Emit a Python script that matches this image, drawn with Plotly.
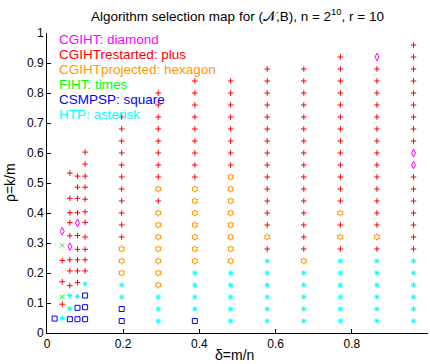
import plotly.graph_objects as go

# Problem-size columns (delta = m/n)
DELTA = [0.02, 0.04, 0.06, 0.08, 0.10, 0.196, 0.292, 0.388, 0.482, 0.578, 0.674, 0.770, 0.866, 0.962]

# Winning algorithm at each (delta, rho) point, grouped by delta column
cgiht_rho = {
    0.04: [0.339],
    0.06: [0.288],
    0.08: [0.367],
    0.866: [0.92],
    0.962: [0.56, 0.60],
}

cgiht_restarted_rho = {
    0.04: [0.096, 0.171, 0.242],
    0.06: [0.158, 0.207, 0.244, 0.324, 0.368, 0.401, 0.449, 0.533],
    0.08: [0.168, 0.207, 0.244, 0.279, 0.325, 0.401, 0.449, 0.486, 0.523],
    0.10: [0.207, 0.244, 0.279, 0.320, 0.369, 0.404, 0.446, 0.486, 0.523, 0.563, 0.603],
    0.196: [0.32, 0.36, 0.40, 0.44, 0.48, 0.52, 0.56, 0.60, 0.64, 0.68, 0.72],
    0.292: [0.44, 0.52, 0.56, 0.60, 0.64, 0.68, 0.72, 0.76, 0.80],
    0.388: [0.52, 0.56, 0.60, 0.64, 0.68, 0.72, 0.76, 0.80, 0.84],
    0.482: [0.56, 0.60, 0.64, 0.68, 0.72, 0.76, 0.80, 0.84],
    0.578: [0.28, 0.36, 0.40, 0.44, 0.48, 0.52, 0.56, 0.60, 0.64, 0.68, 0.72, 0.76, 0.80, 0.84, 0.88],
    0.674: [0.28, 0.32, 0.36, 0.40, 0.44, 0.48, 0.52, 0.56, 0.60, 0.64, 0.68, 0.72, 0.76, 0.80, 0.84, 0.88],
    0.770: [0.28, 0.36, 0.44, 0.48, 0.52, 0.56, 0.60, 0.64, 0.68, 0.72, 0.76, 0.80, 0.84, 0.88, 0.92],
    0.866: [0.28, 0.36, 0.40, 0.44, 0.48, 0.52, 0.56, 0.60, 0.64, 0.68, 0.72, 0.76, 0.80, 0.84, 0.88],
    0.962: [0.28, 0.32, 0.36, 0.40, 0.44, 0.48, 0.52, 0.64, 0.68, 0.72, 0.76, 0.80, 0.84, 0.88, 0.92, 0.96],
}

cgiht_projected_rho = {
    0.196: [0.20, 0.24, 0.28],
    0.292: [0.16, 0.20, 0.24, 0.28, 0.32, 0.36, 0.40, 0.48],
    0.388: [0.24, 0.28, 0.32, 0.36, 0.40, 0.44, 0.48],
    0.482: [0.24, 0.28, 0.32, 0.36, 0.40, 0.44, 0.48, 0.52],
    0.578: [0.32],
    0.674: [0.24],
    0.770: [0.32, 0.40],
    0.866: [0.32],
}

fiht_rho = {
    0.04: [0.121, 0.292],
}

csmpsp_rho = {
    0.02: [0.048],
    0.06: [0.046],
    0.08: [0.046, 0.084],
    0.10: [0.046, 0.086, 0.125],
    0.196: [0.04, 0.08],
    0.388: [0.04],
}

htp_rho = {
    0.04: [0.049],
    0.06: [0.081, 0.125],
    0.08: [0.121],
    0.10: [0.164],
    0.196: [0.12, 0.16],
    0.292: [0.04, 0.08, 0.12],
    0.388: [0.08, 0.12, 0.16, 0.20],
    0.482: [0.04, 0.08, 0.12, 0.16, 0.20],
    0.578: [0.04, 0.08, 0.12, 0.16, 0.20, 0.24],
    0.674: [0.04, 0.08, 0.12, 0.16, 0.20],
    0.770: [0.04, 0.08, 0.12, 0.16, 0.20, 0.24],
    0.866: [0.04, 0.08, 0.12, 0.16, 0.20, 0.24],
    0.962: [0.04, 0.08, 0.12, 0.16, 0.20, 0.24],
}

X_TICKS = [0, 0.2, 0.4, 0.6, 0.8, 1]
X_TICK_TEXT = ["0", "0.2", "0.4", "0.6", "0.8", "1"]
Y_TICKS = [0, 0.1, 0.2, 0.3, 0.4, 0.5, 0.6, 0.7, 0.8, 0.9, 1]
Y_TICK_TEXT = ["0", "0.1", "0.2", "0.3", "0.4", "0.5", "0.6", "0.7", "0.8", "0.9", "1"]

FONT = "Liberation Sans, Arial, Helvetica, sans-serif"

# name, points, marker symbol, colour, marker size
ALGORITHMS = [
    ("HTP: asterisk", htp_rho, "asterisk-open", "#00FFFF", 4.5),
    ("CSMPSP: square", csmpsp_rho, "square-open", "#0000FF", 5),
    ("FIHT: times", fiht_rho, "x-thin-open", "#00FF00", 4.5),
    ("CGIHTprojected: hexagon", cgiht_projected_rho, "hexagram-open", "#FF9900", 5),
    ("CGIHTrestarted: plus", cgiht_restarted_rho, "cross-thin-open", "#FF0000", 4),
    ("CGIHT: diamond", cgiht_rho, "diamond-tall-open", "#FF00FF", 5.5),
]

fig = go.Figure()
for name, pts, symbol, color, size in ALGORITHMS:
    xs = [d for d, rs in pts.items() for _ in rs]
    ys = [r for rs in pts.values() for r in rs]
    fig.add_trace(go.Scatter(
        x=xs, y=ys, mode="markers", name=name, showlegend=False,
        marker=dict(symbol=symbol, size=size, color=color,
                    line=dict(color=color, width=1)),
    ))

# Key texts in the upper-left corner, top to bottom
KEY_ORDER = [
    ("CGIHT: diamond", "#FF00FF"),
    ("CGIHTrestarted: plus", "#FF0000"),
    ("CGIHTprojected: hexagon", "#FF9900"),
    ("FIHT: times", "#00FF00"),
    ("CSMPSP: square", "#0000FF"),
    ("HTP: asterisk", "#00FFFF"),
]
KEY_Y = [0.98, 0.93, 0.88, 0.83, 0.78, 0.73]
annotations = []
for (label, color), ky in zip(KEY_ORDER, KEY_Y):
    annotations.append(dict(
        x=0.026, y=ky, xref="x", yref="y", text=label, showarrow=False,
        xanchor="left", yanchor="middle", font=dict(family=FONT, size=13.5, color=color),
    ))

# Axis titles
annotations.append(dict(
    x=0.493, y=-0.073, xref="paper", yref="paper", text="δ=m/n", showarrow=False,
    xanchor="center", yanchor="middle", font=dict(family=FONT, size=14, color="black"),
))
annotations.append(dict(
    x=-0.097, y=0.5, xref="paper", yref="paper", text="ρ=k/m", showarrow=False,
    textangle=-90, xanchor="center", yanchor="middle",
    font=dict(family=FONT, size=14, color="black"),
))

axis_common = dict(
    range=[0, 1], showline=True, linecolor="black", linewidth=1,
    ticks="inside", ticklen=4, tickcolor="black", tickwidth=1,
    showgrid=False, zeroline=False, mirror=False, automargin=False,
    tickfont=dict(family=FONT, size=12, color="black"),
)

fig.update_layout(
    width=430, height=364,
    margin=dict(l=47, r=2, t=33, b=31, pad=0),
    paper_bgcolor="white", plot_bgcolor="white",
    title=dict(
        text="Algorithm selection map for (𝒩,B), n = 2<sup>10</sup>, r = 10",
        x=0.5, xref="paper", xanchor="center",
        y=1 - 16 / 364, yref="container", yanchor="middle",
        font=dict(family=FONT, size=13.5, color="black"),
    ),
    xaxis=dict(tickvals=X_TICKS, ticktext=X_TICK_TEXT, **axis_common),
    yaxis=dict(tickvals=Y_TICKS, ticktext=Y_TICK_TEXT, **axis_common),
    annotations=annotations,
    showlegend=False,
)

fig.write_html("out.html")
